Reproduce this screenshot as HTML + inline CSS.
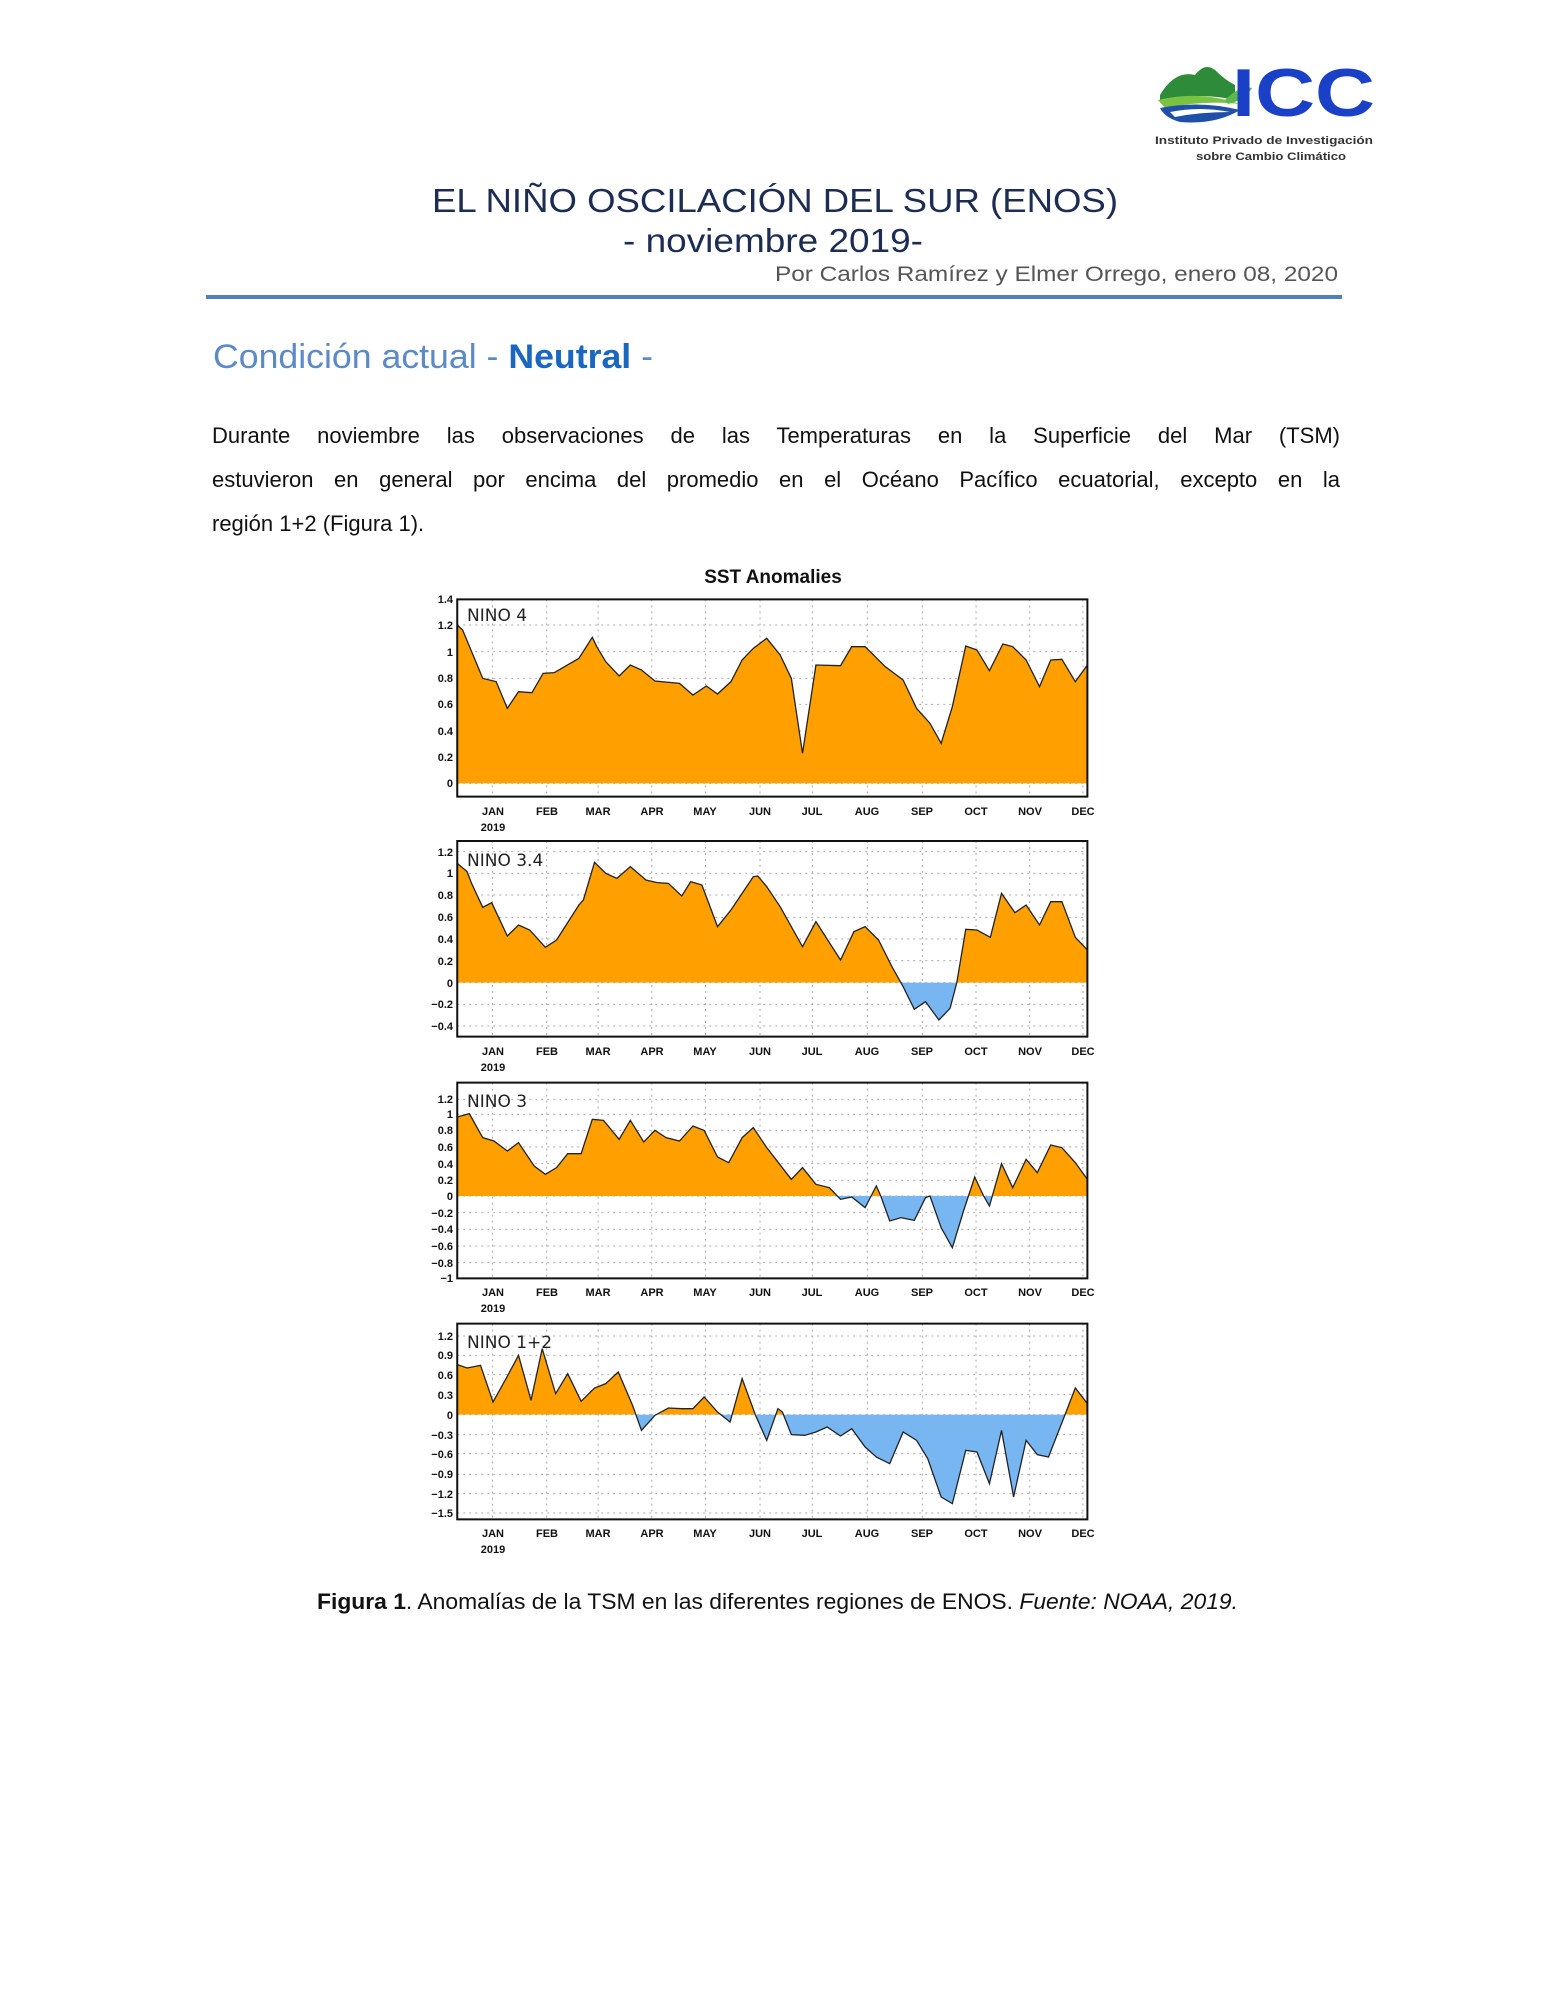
<!DOCTYPE html>
<html><head><meta charset="utf-8"><style>
html,body{margin:0;padding:0;background:#fff;}
body{position:relative;width:1545px;height:2000px;}
svg{display:block;}
.t{font-family:"Liberation Sans",sans-serif;}
.tk{font-family:"Liberation Sans",sans-serif;font-size:11px;font-weight:bold;fill:#111;text-anchor:end;}
.mo{font-family:"Liberation Sans",sans-serif;font-size:11px;font-weight:bold;fill:#111;text-anchor:middle;}
.nl{font-family:"DejaVu Sans",sans-serif;font-size:17px;fill:#222;}
.grid line{stroke:#aaa;stroke-width:1;stroke-dasharray:2 4;vector-effect:non-scaling-stroke;}
.para{position:absolute;left:212px;top:414px;width:1128px;font-family:"Liberation Sans",sans-serif;font-size:22px;line-height:44px;color:#111;margin:0;}
.para div{white-space:nowrap;}
.para .j{text-align:justify;text-align-last:justify;white-space:normal;}
</style></head><body>
<svg width="1545" height="2000" viewBox="0 0 1545 2000" xmlns="http://www.w3.org/2000/svg">
<rect width="1545" height="2000" fill="#fff"/>
<g>
<path d="M1160 95 Q1175 70 1195 75 Q1205 62 1215 70 Q1225 80 1235 85 L1235 100 Q1200 92 1160 100 Z" fill="#2e8b3a"/>
<path d="M1158 100 Q1200 90 1240 104 Q1205 100 1165 108 Z" fill="#7cc242"/>
<path d="M1160 108 Q1200 100 1240 110 Q1215 125 1180 122 Q1165 118 1160 108 Z" fill="#1f4fa8"/>
<path d="M1170 112 Q1200 106 1230 112 Q1200 112 1175 117 Z" fill="#fff"/>
<path d="M1225 100 Q1240 85 1252 88 Q1245 100 1228 104 Z" fill="#5cb848"/>
<text x="1232" y="116" class="t" font-size="68" font-weight="bold" fill="#1a40c8" textLength="143" lengthAdjust="spacingAndGlyphs">ICC</text>
<text x="1155" y="144" class="t" font-size="11" font-weight="bold" fill="#333" textLength="218" lengthAdjust="spacingAndGlyphs">Instituto Privado de Investigación</text>
<text x="1196" y="160" class="t" font-size="11" font-weight="bold" fill="#333" textLength="150" lengthAdjust="spacingAndGlyphs">sobre Cambio Climático</text>
</g>
<text x="432" y="212" class="t" font-size="33" fill="#1c2c52" textLength="686" lengthAdjust="spacingAndGlyphs">EL NIÑO OSCILACIÓN DEL SUR (ENOS)</text>
<text x="623" y="252" class="t" font-size="33" fill="#1c2c52" textLength="300" lengthAdjust="spacingAndGlyphs">- noviembre 2019-</text>
<text x="775" y="281" class="t" font-size="21" fill="#555" textLength="563" lengthAdjust="spacingAndGlyphs">Por Carlos Ramírez y Elmer Orrego, enero 08, 2020</text>
<rect x="206" y="295" width="1136" height="4" fill="#4f7fbd"/>
<text x="213" y="368" class="t" font-size="34" fill="#5b8ac6" textLength="440" lengthAdjust="spacingAndGlyphs">Condición actual - <tspan font-weight="bold" fill="#1a66c0">Neutral</tspan> -</text>
<text x="773" y="583" class="t" font-size="19" font-weight="bold" fill="#111" text-anchor="middle">SST Anomalies</text>

<defs>
<clipPath id="a1" clipPathUnits="userSpaceOnUse"><rect x="128" y="0" width="1409" height="700"/></clipPath>
<clipPath id="a2" clipPathUnits="userSpaceOnUse"><rect x="128" y="0" width="1409" height="458"/></clipPath>
<clipPath id="b2" clipPathUnits="userSpaceOnUse"><rect x="128" y="458" width="1409" height="200"/></clipPath>
<clipPath id="a3" clipPathUnits="userSpaceOnUse"><rect x="128" y="0" width="1409" height="375"/></clipPath>
<clipPath id="b3" clipPathUnits="userSpaceOnUse"><rect x="128" y="375" width="1409" height="300"/></clipPath>
<clipPath id="a4" clipPathUnits="userSpaceOnUse"><rect x="128" y="0" width="1409" height="308"/></clipPath>
<clipPath id="b4" clipPathUnits="userSpaceOnUse"><rect x="128" y="308" width="1409" height="400"/></clipPath>
</defs>

<g transform="translate(400,550) scale(0.44723,0.33333)">
<g class="grid">
<line x1="128" x2="1537" y1="225" y2="225"/><line x1="128" x2="1537" y1="305" y2="305"/><line x1="128" x2="1537" y1="385" y2="385"/><line x1="128" x2="1537" y1="463" y2="463"/><line x1="128" x2="1537" y1="543" y2="543"/><line x1="128" x2="1537" y1="620" y2="620"/><line x1="128" x2="1537" y1="700" y2="700"/>
<line x1="207" x2="207" y1="148" y2="740"/><line x1="328" x2="328" y1="148" y2="740"/><line x1="443" x2="443" y1="148" y2="740"/><line x1="563" x2="563" y1="148" y2="740"/><line x1="683" x2="683" y1="148" y2="740"/><line x1="805" x2="805" y1="148" y2="740"/><line x1="922" x2="922" y1="148" y2="740"/><line x1="1045" x2="1045" y1="148" y2="740"/><line x1="1168" x2="1168" y1="148" y2="740"/><line x1="1288" x2="1288" y1="148" y2="740"/><line x1="1408" x2="1408" y1="148" y2="740"/><line x1="1527" x2="1527" y1="148" y2="740"/>
</g>
<polygon clip-path="url(#a1)" fill="#ffa000" points="128,700 128,225 140,240 185,385 215,395 240,475 265,425 295,428 320,370 345,368 400,325 430,262 440,290 460,335 490,378 515,345 540,360 570,393 625,400 655,435 685,408 710,432 740,395 765,330 790,295 820,265 850,315 875,385 900,610 930,345 985,347 1010,290 1040,290 1085,350 1125,390 1155,475 1185,520 1210,580 1235,470 1265,288 1290,300 1318,362 1348,282 1370,290 1400,330 1430,410 1455,330 1480,328 1510,395 1537,345 1537,700"/>
<polyline fill="none" stroke="#222" stroke-width="1.3" vector-effect="non-scaling-stroke" points="128,225 140,240 185,385 215,395 240,475 265,425 295,428 320,370 345,368 400,325 430,262 440,290 460,335 490,378 515,345 540,360 570,393 625,400 655,435 685,408 710,432 740,395 765,330 790,295 820,265 850,315 875,385 900,610 930,345 985,347 1010,290 1040,290 1085,350 1125,390 1155,475 1185,520 1210,580 1235,470 1265,288 1290,300 1318,362 1348,282 1370,290 1400,330 1430,410 1455,330 1480,328 1510,395 1537,345"/>
<rect x="128" y="148" width="1409" height="592" fill="none" stroke="#111" stroke-width="2" vector-effect="non-scaling-stroke"/>
</g>
<text class="nl" x="467" y="621">NINO  4</text>
<g><text class="tk" x="453" y="603">1.4</text><text class="tk" x="453" y="629">1.2</text><text class="tk" x="453" y="656">1</text><text class="tk" x="453" y="682">0.8</text><text class="tk" x="453" y="708">0.6</text><text class="tk" x="453" y="735">0.4</text><text class="tk" x="453" y="761">0.2</text><text class="tk" x="453" y="787">0</text></g>
<g transform="translate(0,797)"><text class="mo" x="493" y="18">JAN</text><text class="mo" x="493" y="34">2019</text><text class="mo" x="547" y="18">FEB</text><text class="mo" x="598" y="18">MAR</text><text class="mo" x="652" y="18">APR</text><text class="mo" x="705" y="18">MAY</text><text class="mo" x="760" y="18">JUN</text><text class="mo" x="812" y="18">JUL</text><text class="mo" x="867" y="18">AUG</text><text class="mo" x="922" y="18">SEP</text><text class="mo" x="976" y="18">OCT</text><text class="mo" x="1030" y="18">NOV</text><text class="mo" x="1083" y="18">DEC</text></g>

<g transform="translate(400,830) scale(0.44723,0.33333)">
<g class="grid">
<line x1="128" x2="1537" y1="65" y2="65"/><line x1="128" x2="1537" y1="130" y2="130"/><line x1="128" x2="1537" y1="195" y2="195"/><line x1="128" x2="1537" y1="262" y2="262"/><line x1="128" x2="1537" y1="327" y2="327"/><line x1="128" x2="1537" y1="392" y2="392"/><line x1="128" x2="1537" y1="458" y2="458"/><line x1="128" x2="1537" y1="523" y2="523"/><line x1="128" x2="1537" y1="588" y2="588"/>
<line x1="207" x2="207" y1="33" y2="620"/><line x1="328" x2="328" y1="33" y2="620"/><line x1="443" x2="443" y1="33" y2="620"/><line x1="563" x2="563" y1="33" y2="620"/><line x1="683" x2="683" y1="33" y2="620"/><line x1="805" x2="805" y1="33" y2="620"/><line x1="922" x2="922" y1="33" y2="620"/><line x1="1045" x2="1045" y1="33" y2="620"/><line x1="1168" x2="1168" y1="33" y2="620"/><line x1="1288" x2="1288" y1="33" y2="620"/><line x1="1408" x2="1408" y1="33" y2="620"/><line x1="1527" x2="1527" y1="33" y2="620"/>
</g>
<polygon clip-path="url(#a2)" fill="#ffa000" points="128,458 128,100 150,125 160,160 185,232 205,218 240,318 265,285 290,300 325,352 350,330 400,225 410,210 435,97 460,130 485,145 515,110 550,150 575,158 600,160 630,198 650,155 675,165 710,290 740,240 790,140 800,138 820,170 850,230 900,350 930,275 985,390 1015,305 1040,290 1070,330 1100,410 1125,470 1150,538 1175,515 1205,570 1230,535 1245,458 1265,298 1290,300 1320,322 1345,190 1375,248 1400,225 1430,285 1455,215 1480,215 1510,322 1537,360 1537,458"/>
<polygon clip-path="url(#b2)" fill="#78b6f2" points="128,458 128,100 150,125 160,160 185,232 205,218 240,318 265,285 290,300 325,352 350,330 400,225 410,210 435,97 460,130 485,145 515,110 550,150 575,158 600,160 630,198 650,155 675,165 710,290 740,240 790,140 800,138 820,170 850,230 900,350 930,275 985,390 1015,305 1040,290 1070,330 1100,410 1125,470 1150,538 1175,515 1205,570 1230,535 1245,458 1265,298 1290,300 1320,322 1345,190 1375,248 1400,225 1430,285 1455,215 1480,215 1510,322 1537,360 1537,458"/>
<polyline fill="none" stroke="#222" stroke-width="1.3" vector-effect="non-scaling-stroke" points="128,100 150,125 160,160 185,232 205,218 240,318 265,285 290,300 325,352 350,330 400,225 410,210 435,97 460,130 485,145 515,110 550,150 575,158 600,160 630,198 650,155 675,165 710,290 740,240 790,140 800,138 820,170 850,230 900,350 930,275 985,390 1015,305 1040,290 1070,330 1100,410 1125,470 1150,538 1175,515 1205,570 1230,535 1245,458 1265,298 1290,300 1320,322 1345,190 1375,248 1400,225 1430,285 1455,215 1480,215 1510,322 1537,360"/>
<rect x="128" y="33" width="1409" height="587" fill="none" stroke="#111" stroke-width="2" vector-effect="non-scaling-stroke"/>
</g>
<text class="nl" x="467" y="866">NINO  3.4</text>
<g><text class="tk" x="453" y="856">1.2</text><text class="tk" x="453" y="877">1</text><text class="tk" x="453" y="899">0.8</text><text class="tk" x="453" y="921">0.6</text><text class="tk" x="453" y="943">0.4</text><text class="tk" x="453" y="965">0.2</text><text class="tk" x="453" y="987">0</text><text class="tk" x="453" y="1008">−0.2</text><text class="tk" x="453" y="1030">−0.4</text></g>
<g transform="translate(0,1037)"><text class="mo" x="493" y="18">JAN</text><text class="mo" x="493" y="34">2019</text><text class="mo" x="547" y="18">FEB</text><text class="mo" x="598" y="18">MAR</text><text class="mo" x="652" y="18">APR</text><text class="mo" x="705" y="18">MAY</text><text class="mo" x="760" y="18">JUN</text><text class="mo" x="812" y="18">JUL</text><text class="mo" x="867" y="18">AUG</text><text class="mo" x="922" y="18">SEP</text><text class="mo" x="976" y="18">OCT</text><text class="mo" x="1030" y="18">NOV</text><text class="mo" x="1083" y="18">DEC</text></g>

<g transform="translate(400,1071) scale(0.44723,0.33333)">
<g class="grid">
<line x1="128" x2="1537" y1="85" y2="85"/><line x1="128" x2="1537" y1="130" y2="130"/><line x1="128" x2="1537" y1="178" y2="178"/><line x1="128" x2="1537" y1="228" y2="228"/><line x1="128" x2="1537" y1="278" y2="278"/><line x1="128" x2="1537" y1="328" y2="328"/><line x1="128" x2="1537" y1="375" y2="375"/><line x1="128" x2="1537" y1="425" y2="425"/><line x1="128" x2="1537" y1="475" y2="475"/><line x1="128" x2="1537" y1="525" y2="525"/><line x1="128" x2="1537" y1="575" y2="575"/>
<line x1="207" x2="207" y1="35" y2="622"/><line x1="328" x2="328" y1="35" y2="622"/><line x1="443" x2="443" y1="35" y2="622"/><line x1="563" x2="563" y1="35" y2="622"/><line x1="683" x2="683" y1="35" y2="622"/><line x1="805" x2="805" y1="35" y2="622"/><line x1="922" x2="922" y1="35" y2="622"/><line x1="1045" x2="1045" y1="35" y2="622"/><line x1="1168" x2="1168" y1="35" y2="622"/><line x1="1288" x2="1288" y1="35" y2="622"/><line x1="1408" x2="1408" y1="35" y2="622"/><line x1="1527" x2="1527" y1="35" y2="622"/>
</g>
<polygon clip-path="url(#a3)" fill="#ffa000" points="128,375 128,138 155,128 185,200 210,210 240,240 265,215 300,285 325,310 350,290 375,248 405,248 430,145 455,148 490,205 515,148 545,213 570,178 595,200 625,210 655,165 680,178 710,258 735,275 765,200 790,170 820,230 875,325 900,290 930,340 960,350 985,385 1010,378 1040,410 1065,345 1075,375 1095,450 1120,440 1150,448 1175,380 1185,375 1210,470 1235,530 1260,420 1285,318 1305,375 1318,405 1345,278 1370,350 1400,265 1425,305 1455,222 1480,230 1510,275 1537,325 1537,375"/>
<polygon clip-path="url(#b3)" fill="#78b6f2" points="128,375 128,138 155,128 185,200 210,210 240,240 265,215 300,285 325,310 350,290 375,248 405,248 430,145 455,148 490,205 515,148 545,213 570,178 595,200 625,210 655,165 680,178 710,258 735,275 765,200 790,170 820,230 875,325 900,290 930,340 960,350 985,385 1010,378 1040,410 1065,345 1075,375 1095,450 1120,440 1150,448 1175,380 1185,375 1210,470 1235,530 1260,420 1285,318 1305,375 1318,405 1345,278 1370,350 1400,265 1425,305 1455,222 1480,230 1510,275 1537,325 1537,375"/>
<polyline fill="none" stroke="#222" stroke-width="1.3" vector-effect="non-scaling-stroke" points="128,138 155,128 185,200 210,210 240,240 265,215 300,285 325,310 350,290 375,248 405,248 430,145 455,148 490,205 515,148 545,213 570,178 595,200 625,210 655,165 680,178 710,258 735,275 765,200 790,170 820,230 875,325 900,290 930,340 960,350 985,385 1010,378 1040,410 1065,345 1075,375 1095,450 1120,440 1150,448 1175,380 1185,375 1210,470 1235,530 1260,420 1285,318 1305,375 1318,405 1345,278 1370,350 1400,265 1425,305 1455,222 1480,230 1510,275 1537,325"/>
<rect x="128" y="35" width="1409" height="587" fill="none" stroke="#111" stroke-width="2" vector-effect="non-scaling-stroke"/>
</g>
<text class="nl" x="467" y="1107">NINO  3</text>
<g><text class="tk" x="453" y="1103">1.2</text><text class="tk" x="453" y="1118">1</text><text class="tk" x="453" y="1134">0.8</text><text class="tk" x="453" y="1151">0.6</text><text class="tk" x="453" y="1168">0.4</text><text class="tk" x="453" y="1184">0.2</text><text class="tk" x="453" y="1200">0</text><text class="tk" x="453" y="1217">−0.2</text><text class="tk" x="453" y="1233">−0.4</text><text class="tk" x="453" y="1250">−0.6</text><text class="tk" x="453" y="1267">−0.8</text><text class="tk" x="453" y="1282">−1</text></g>
<g transform="translate(0,1278)"><text class="mo" x="493" y="18">JAN</text><text class="mo" x="493" y="34">2019</text><text class="mo" x="547" y="18">FEB</text><text class="mo" x="598" y="18">MAR</text><text class="mo" x="652" y="18">APR</text><text class="mo" x="705" y="18">MAY</text><text class="mo" x="760" y="18">JUN</text><text class="mo" x="812" y="18">JUL</text><text class="mo" x="867" y="18">AUG</text><text class="mo" x="922" y="18">SEP</text><text class="mo" x="976" y="18">OCT</text><text class="mo" x="1030" y="18">NOV</text><text class="mo" x="1083" y="18">DEC</text></g>

<g transform="translate(400,1312) scale(0.44723,0.33333)">
<g class="grid">
<line x1="128" x2="1537" y1="72" y2="72"/><line x1="128" x2="1537" y1="130" y2="130"/><line x1="128" x2="1537" y1="188" y2="188"/><line x1="128" x2="1537" y1="248" y2="248"/><line x1="128" x2="1537" y1="308" y2="308"/><line x1="128" x2="1537" y1="368" y2="368"/><line x1="128" x2="1537" y1="425" y2="425"/><line x1="128" x2="1537" y1="487" y2="487"/><line x1="128" x2="1537" y1="545" y2="545"/><line x1="128" x2="1537" y1="603" y2="603"/>
<line x1="207" x2="207" y1="35" y2="622"/><line x1="328" x2="328" y1="35" y2="622"/><line x1="443" x2="443" y1="35" y2="622"/><line x1="563" x2="563" y1="35" y2="622"/><line x1="683" x2="683" y1="35" y2="622"/><line x1="805" x2="805" y1="35" y2="622"/><line x1="922" x2="922" y1="35" y2="622"/><line x1="1045" x2="1045" y1="35" y2="622"/><line x1="1168" x2="1168" y1="35" y2="622"/><line x1="1288" x2="1288" y1="35" y2="622"/><line x1="1408" x2="1408" y1="35" y2="622"/><line x1="1527" x2="1527" y1="35" y2="622"/>
</g>
<polygon clip-path="url(#a4)" fill="#ffa000" points="128,308 128,158 150,168 180,160 208,270 235,205 265,130 293,265 318,110 348,245 375,185 405,268 435,228 460,215 488,180 520,280 540,355 570,310 600,288 630,290 655,290 680,255 710,300 738,330 765,200 795,310 820,385 845,290 855,300 875,368 905,370 930,360 955,345 985,372 1010,350 1040,405 1065,435 1095,455 1125,360 1155,385 1180,440 1210,555 1235,575 1265,415 1290,420 1318,515 1345,355 1372,555 1400,385 1425,428 1450,435 1485,315 1510,228 1537,275 1537,308"/>
<polygon clip-path="url(#b4)" fill="#78b6f2" points="128,308 128,158 150,168 180,160 208,270 235,205 265,130 293,265 318,110 348,245 375,185 405,268 435,228 460,215 488,180 520,280 540,355 570,310 600,288 630,290 655,290 680,255 710,300 738,330 765,200 795,310 820,385 845,290 855,300 875,368 905,370 930,360 955,345 985,372 1010,350 1040,405 1065,435 1095,455 1125,360 1155,385 1180,440 1210,555 1235,575 1265,415 1290,420 1318,515 1345,355 1372,555 1400,385 1425,428 1450,435 1485,315 1510,228 1537,275 1537,308"/>
<polyline fill="none" stroke="#222" stroke-width="1.3" vector-effect="non-scaling-stroke" points="128,158 150,168 180,160 208,270 235,205 265,130 293,265 318,110 348,245 375,185 405,268 435,228 460,215 488,180 520,280 540,355 570,310 600,288 630,290 655,290 680,255 710,300 738,330 765,200 795,310 820,385 845,290 855,300 875,368 905,370 930,360 955,345 985,372 1010,350 1040,405 1065,435 1095,455 1125,360 1155,385 1180,440 1210,555 1235,575 1265,415 1290,420 1318,515 1345,355 1372,555 1400,385 1425,428 1450,435 1485,315 1510,228 1537,275"/>
<rect x="128" y="35" width="1409" height="587" fill="none" stroke="#111" stroke-width="2" vector-effect="non-scaling-stroke"/>
</g>
<text class="nl" x="467" y="1348">NINO  1+2</text>
<g><text class="tk" x="453" y="1340">1.2</text><text class="tk" x="453" y="1359">0.9</text><text class="tk" x="453" y="1379">0.6</text><text class="tk" x="453" y="1399">0.3</text><text class="tk" x="453" y="1419">0</text><text class="tk" x="453" y="1439">−0.3</text><text class="tk" x="453" y="1458">−0.6</text><text class="tk" x="453" y="1478">−0.9</text><text class="tk" x="453" y="1498">−1.2</text><text class="tk" x="453" y="1517">−1.5</text></g>
<g transform="translate(0,1519)"><text class="mo" x="493" y="18">JAN</text><text class="mo" x="493" y="34">2019</text><text class="mo" x="547" y="18">FEB</text><text class="mo" x="598" y="18">MAR</text><text class="mo" x="652" y="18">APR</text><text class="mo" x="705" y="18">MAY</text><text class="mo" x="760" y="18">JUN</text><text class="mo" x="812" y="18">JUL</text><text class="mo" x="867" y="18">AUG</text><text class="mo" x="922" y="18">SEP</text><text class="mo" x="976" y="18">OCT</text><text class="mo" x="1030" y="18">NOV</text><text class="mo" x="1083" y="18">DEC</text></g>

<text x="317" y="1609" class="t" font-size="22" fill="#111" textLength="921" lengthAdjust="spacingAndGlyphs"><tspan font-weight="bold">Figura 1</tspan>. Anomalías de la TSM en las diferentes regiones de ENOS. <tspan font-style="italic">Fuente: NOAA, 2019.</tspan></text>
</svg>
<div class="para">
<div class="j">Durante noviembre las observaciones de las Temperaturas en la Superficie del Mar (TSM)</div>
<div class="j">estuvieron en general por encima del promedio en el Océano Pacífico ecuatorial, excepto en la</div>
<div>región 1+2 (Figura 1).</div>
</div>
</body></html>
